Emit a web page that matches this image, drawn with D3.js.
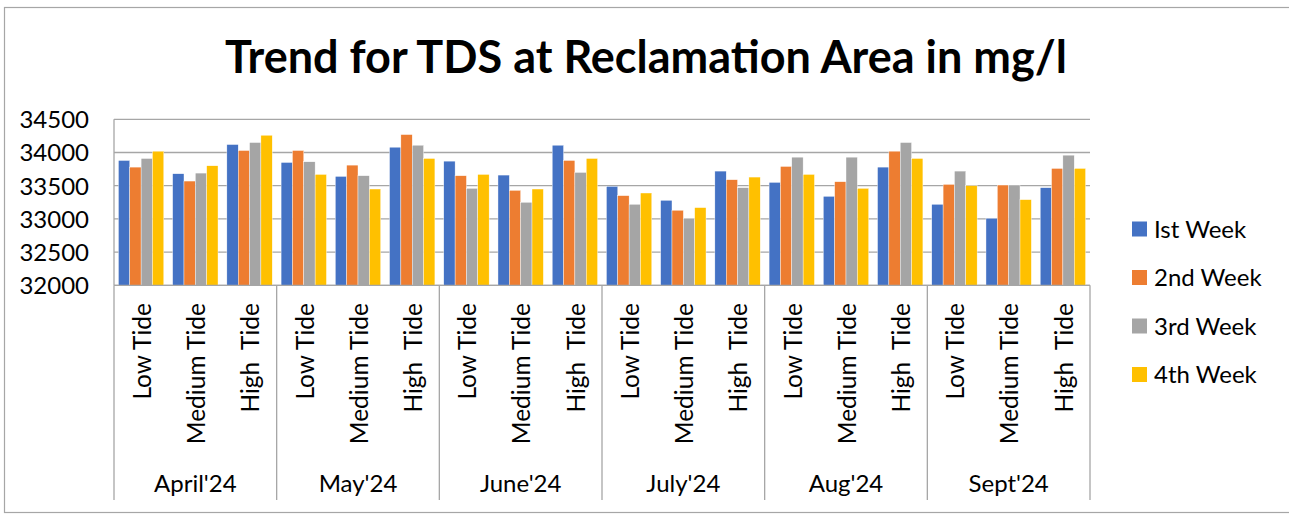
<!DOCTYPE html>
<html>
<head>
<meta charset="utf-8">
<script src="https://cdn.jsdelivr.net/npm/d3@7"></script>
<style>
  html, body { margin: 0; padding: 0; background: #fff; }
  svg { display: block; font-family: Lato, "Open Sans", sans-serif; }
</style>
</head>
<body>
<svg id="chart" width="1289" height="518"></svg>
<script>
// TDS readings (mg/l) at the reclamation area, by month and tide
const months = ["April'24", "May'24", "June'24", "July'24", "Aug'24", "Sept'24"];
const tides = ["Low Tide", "Medium Tide", "High  Tide"];
const weeks = ["Ist Week", "2nd Week", "3rd Week", "4th Week"];
const weekColors = ["#4472C4", "#ED7D31", "#A5A5A5", "#FFC000"];
const yTicks = [32000, 32500, 33000, 33500, 34000, 34500];

// one row per month×tide, in the same order as months × tides
const week1 = [33880, 33680, 34120, 33850, 33640, 34080, 33870, 33660, 34110, 33490, 33280, 33720, 33550, 33340, 33780, 33220, 33010, 33470];
const week2 = [33780, 33570, 34030, 34030, 33810, 34270, 33650, 33430, 33880, 33350, 33130, 33590, 33790, 33560, 34020, 33520, 33510, 33760];
const week3 = [33910, 33690, 34150, 33860, 33650, 34110, 33460, 33250, 33700, 33220, 33010, 33470, 33930, 33930, 34150, 33720, 33510, 33960];
const week4 = [34020, 33800, 34260, 33670, 33450, 33910, 33670, 33450, 33910, 33390, 33170, 33630, 33670, 33460, 33910, 33500, 33290, 33760];
const seriesValues = [week1, week2, week3, week4];

const svg = d3.select("#chart");
const FONT = 'Lato, "Open Sans", sans-serif';
const LABEL_SIZE = 24;

// outer frame
svg.append("rect")
  .attr("x", 4.5).attr("y", 7.5).attr("width", 1300).attr("height", 505)
  .attr("fill", "none").attr("stroke", "#a6a6a6").attr("stroke-width", 1.2);

// title
svg.append("text")
  .attr("x", 646).attr("y", 73)
  .attr("text-anchor", "middle")
  .attr("font-size", 45).attr("font-weight", 700)
  .attr("fill", "#000")
  .text("Trend for TDS at Reclamation Area in mg/l");

const plot = { left: 114, right: 1090, top: 119.3, bottom: 285.3 };

const cats = [];
months.forEach(m => tides.forEach(t => cats.push(m + "|" + t)));

const x0 = d3.scaleBand().domain(cats).range([plot.left, plot.right]).paddingInner(0).paddingOuter(0);
const x1 = d3.scaleBand().domain(d3.range(weeks.length)).range([0, x0.bandwidth()]).paddingInner(0).paddingOuter(0.39);
const y = d3.scaleLinear().domain([32000, 34500]).range([plot.bottom, plot.top]);

// horizontal gridlines
svg.append("g").selectAll("line").data(yTicks).join("line")
  .attr("x1", plot.left).attr("x2", plot.right)
  .attr("y1", d => y(d)).attr("y2", d => y(d))
  .attr("stroke", "#a6a6a6").attr("stroke-width", 1.3);

// y axis line
svg.append("line")
  .attr("x1", plot.left).attr("x2", plot.left)
  .attr("y1", plot.top).attr("y2", plot.bottom)
  .attr("stroke", "#a6a6a6").attr("stroke-width", 1.3);

// y tick labels
const yAxis = d3.axisLeft(y).tickValues(yTicks).tickSize(0).tickPadding(0).tickFormat(d3.format("d"));
const yg = svg.append("g").attr("transform", `translate(89,0)`).call(yAxis);
yg.select(".domain").remove();
yg.selectAll("text")
  .attr("font-family", FONT).attr("font-size", LABEL_SIZE).attr("fill", "#000")
  .attr("dy", "0.35em");

// bars
const rows = cats.map((c, i) => ({ cat: c, vals: seriesValues.map(s => s[i]) }));
const groups = svg.append("g").selectAll("g").data(rows).join("g")
  .attr("transform", d => `translate(${x0(d.cat)},0)`);
groups.selectAll("rect").data(d => d.vals.map((v, k) => ({ v, k }))).join("rect")
  .attr("x", d => x1(d.k))
  .attr("width", x1.bandwidth())
  .attr("y", d => y(d.v))
  .attr("height", d => y(32000) - y(d.v))
  .attr("fill", d => weekColors[d.k])
  .attr("stroke", "#fff").attr("stroke-width", 0.4);

// x axis baseline
svg.append("line")
  .attr("x1", plot.left).attr("x2", plot.right)
  .attr("y1", plot.bottom).attr("y2", plot.bottom)
  .attr("stroke", "#a6a6a6").attr("stroke-width", 1.3);

// tide labels (rotated)
svg.append("g").selectAll("text").data(cats).join("text")
  .attr("transform", d => `translate(${x0(d) + x0.bandwidth() / 2 + 1},303) rotate(-90)`)
  .attr("text-anchor", "end")
  .attr("dy", "0.36em")
  .attr("font-size", LABEL_SIZE + 0.5).attr("fill", "#000")
  .style("white-space", "pre")
  .text(d => d.split("|")[1]);

// month separators
const monthEdges = d3.range(months.length + 1).map(i => plot.left + i * 3 * x0.step());
svg.append("g").selectAll("line").data(monthEdges).join("line")
  .attr("x1", d => d).attr("x2", d => d)
  .attr("y1", plot.bottom).attr("y2", 500)
  .attr("stroke", "#a6a6a6").attr("stroke-width", 1.3);

// month labels
svg.append("g").selectAll("text").data(months).join("text")
  .attr("x", (d, i) => plot.left + (i * 3 + 1.5) * x0.step())
  .attr("y", 492)
  .attr("text-anchor", "middle")
  .attr("font-size", LABEL_SIZE).attr("fill", "#000")
  .text(d => d);

// legend
const legend = svg.append("g").selectAll("g").data(weeks).join("g")
  .attr("transform", (d, i) => `translate(1132,${229 + i * 48.5})`);
legend.append("rect")
  .attr("x", 0).attr("y", -7.5).attr("width", 15).attr("height", 15)
  .attr("fill", (d, i) => weekColors[i]);
legend.append("text")
  .attr("x", 22).attr("dy", "0.36em")
  .attr("font-size", LABEL_SIZE).attr("fill", "#000")
  .text(d => d);
</script>
</body>
</html>
